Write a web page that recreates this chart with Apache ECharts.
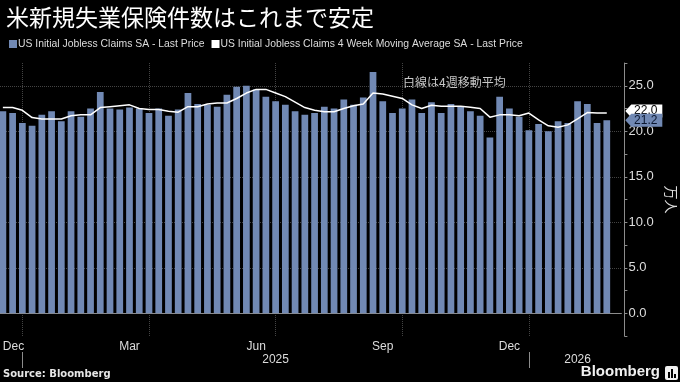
<!DOCTYPE html>
<html><head><meta charset="utf-8">
<script src="https://cdn.jsdelivr.net/npm/echarts@6/dist/echarts.min.js"></script>
<style>html,body{margin:0;padding:0;background:#000}#c{width:680px;height:382px}</style>
</head><body><div id="c"></div>
<script>
// ---- data ----
const weeks = ['2024-12-20','2024-12-27','2025-01-03','2025-01-10','2025-01-17','2025-01-24','2025-01-31','2025-02-07','2025-02-14','2025-02-21','2025-02-28','2025-03-07','2025-03-14','2025-03-21','2025-03-28','2025-04-04','2025-04-11','2025-04-18','2025-04-25','2025-05-02','2025-05-09','2025-05-16','2025-05-23','2025-05-30','2025-06-06','2025-06-13','2025-06-20','2025-06-27','2025-07-04','2025-07-11','2025-07-18','2025-07-25','2025-08-01','2025-08-08','2025-08-15','2025-08-22','2025-08-29','2025-09-05','2025-09-12','2025-09-19','2025-09-26','2025-10-03','2025-10-10','2025-10-17','2025-10-24','2025-10-31','2025-11-07','2025-11-14','2025-11-21','2025-11-28','2025-12-05','2025-12-12','2025-12-19','2025-12-26','2026-01-02','2026-01-09','2026-01-16','2026-01-23','2026-01-30','2026-02-06','2026-02-13','2026-02-20','2026-02-27','2026-03-06'];
const claims = [22.2,22.0,20.9,20.6,21.8,22.2,21.1,22.2,21.6,22.5,24.3,22.5,22.4,22.6,22.5,22.0,22.5,21.7,22.4,24.2,23.0,22.9,22.7,24.0,24.9,25.0,24.6,23.8,23.3,22.9,22.2,21.8,22.0,22.7,22.5,23.5,22.9,23.7,26.5,23.3,22.0,22.5,23.5,22.0,23.2,22.0,23.0,22.7,22.2,21.7,19.3,23.8,22.5,21.6,20.1,20.8,20.0,21.1,20.9,23.3,23.0,20.9,21.2];
const movingAvg = [22.6,22.6,22.3,21.5,21.35,21.35,21.35,21.7,21.8,21.8,22.6,22.7,22.8,22.9,22.5,22.4,22.4,22.2,22.1,22.7,22.7,23.0,23.1,23.1,23.6,24.2,24.6,24.6,24.2,23.8,23.2,22.6,22.3,22.15,22.15,22.5,22.8,23.0,24.2,24.1,23.85,23.6,22.9,22.5,22.85,22.75,22.75,22.75,22.65,22.5,21.55,21.8,21.8,21.7,22.0,21.25,20.6,20.45,20.7,21.35,22.05,22.0,22.0];
const monthLabels = ['Dec','Mar','Jun','Sep','Dec'];
const yearLabels = {'2025-07-04':'2025','2026-02-06':'2026'};
const seriesNames = ['US Initial Jobless Claims SA - Last Price','US Initial Jobless Claims 4 Week Moving Average SA - Last Price'];

// ---- helpers ----
const day = s => +s.slice(8,10), mon = s => +s.slice(5,7);
const isMonthTick = i => day(weeks[i]) <= 7;
const isQuarter = i => isMonthTick(i) && [1,4,7,10].includes(mon(weeks[i]));
const isMonthLabel = i => [3,6,9,12].includes(mon(weeks[i])) && day(weeks[i]) >= 15 && day(weeks[i]) <= 21;
const labelIdx = weeks.map((w,i)=>i).filter(isMonthLabel);
const isYearStart = i => isMonthTick(i) && mon(weeks[i]) === 1;

const BAR = '#7189b4';
const AXIS = '#8c8c8c';
const TXT = '#dcdcdc';
const SANS = '"Liberation Sans", sans-serif';
const TAG = 'path://M0,6.5 L6,0 L37,0 L37,13 L6,13 Z';
const lastI = claims.length - 1;

const chart = echarts.init(document.getElementById('c'));
chart.setOption({
  backgroundColor: '#000',
  animation: false,
  title: {text: '米新規失業保険件数はこれまで安定', left: 1, top: 1,
    textStyle: {color: '#fff', fontSize: 23, fontWeight: 'normal', fontFamily: '"Noto Sans CJK JP"'}},
  legend: {left: 4, top: 34, icon: 'rect', itemWidth: 8, itemHeight: 8, itemGap: 7,
    textStyle: {color: TXT, fontSize: 10.4, fontFamily: SANS, padding: [0,0,0,-4]},
    data: seriesNames},
  grid: {left: -2, right: 58.6, top: 63, bottom: 46, containLabel: false, outerBoundsMode: 'none'},
  xAxis: [{
    type: 'category', data: weeks, boundaryGap: true,
    axisLine: {lineStyle: {color: AXIS}},
    axisTick: {alignWithLabel: true, interval: i => isMonthTick(i), length: 3, lineStyle: {color: AXIS}},
    axisLabel: {interval: i => isMonthLabel(i), formatter: (v,i) => monthLabels[labelIdx.indexOf(i)] || '',
      alignMinLabel: 'left', color: TXT, fontSize: 12, fontFamily: SANS, margin: 5},
    splitLine: {show: true, alignWithLabel: true, interval: i => isQuarter(i), lineStyle: {color: '#444', type: 'dotted'}}
  },{
    type: 'category', data: weeks, boundaryGap: true, position: 'bottom', offset: 16,
    axisLine: {show: false},
    axisTick: {show: true, alignWithLabel: true, interval: i => isYearStart(i), length: 16, lineStyle: {color: AXIS}},
    axisLabel: {interval: i => !!yearLabels[weeks[i]], formatter: v => yearLabels[v] || '',
      color: TXT, fontSize: 12, fontFamily: SANS, margin: 2},
    splitLine: {show: false}
  }],
  yAxis: {
    type: 'value', position: 'right', offset: 3, min: -2.5, max: 27.5, interval: 2.5,
    axisLine: {show: true, lineStyle: {color: AXIS}},
    axisTick: {show: true, length: 3, lineStyle: {color: AXIS}},
    axisLabel: {color: TXT, fontSize: 13, fontFamily: SANS, margin: 4,
      formatter: v => (v >= 0 && Math.abs(v % 5) < 1e-9) ? v.toFixed(1) : ''},
    splitLine: {show: true, lineStyle: {color: ['rgba(0,0,0,0)','#444'], type: 'dotted'}},
    name: '万人', nameLocation: 'middle', nameGap: 37, nameRotate: -90,
    nameTextStyle: {color: TXT, fontSize: 14, fontFamily: '"Noto Sans CJK JP"'}
  },
  series: [{
    name: seriesNames[0], type: 'bar', data: claims, barCategoryGap: '31%',
    itemStyle: {color: BAR}, z: 2,
    markPoint: {z: 10, symbol: TAG, symbolSize: [37,13], symbolOffset: [37,0],
      itemStyle: {color: BAR},
      label: {color: '#0b1730', fontSize: 12, fontFamily: SANS, offset: [2,0],
        formatter: p => p.value.toFixed(1)},
      data: [{coord: [weeks[lastI], claims[lastI]], value: claims[lastI]}]}
  },{
    name: seriesNames[1], type: 'line', data: movingAvg, showSymbol: false, symbol: 'none',
    lineStyle: {color: '#fff', width: 1.5}, itemStyle: {color: '#fff'}, z: 3,
    markPoint: {z: 6, symbol: TAG, symbolSize: [37,13], symbolOffset: [37,-2],
      itemStyle: {color: '#fff'},
      label: {color: '#000', fontSize: 12, fontFamily: SANS, offset: [2,0],
        formatter: p => p.value.toFixed(1)},
      data: [{coord: [weeks[lastI], movingAvg[lastI]], value: movingAvg[lastI]}]}
  }],
  graphic: [
    {type: 'text', left: 403, top: 76, style: {text: '白線は4週移動平均', fill: '#c8c8c8', font: '12px "Noto Sans CJK JP"'}},
    {type: 'text', left: 3, top: 369, style: {text: 'Source: Bloomberg', fill: '#e6e6e6', font: 'bold 10px "DejaVu Sans"'}},
    {type: 'text', right: 20, top: 364, style: {text: 'Bloomberg', fill: '#f0f0f0', font: 'bold 15px "Liberation Sans"'}},
    {type: 'group', right: 2, top: 366, children: [
      {type: 'rect', shape: {x: 0, y: 0, width: 13, height: 14, r: 2}, style: {fill: '#f0f0f0'}},
      {type: 'rect', shape: {x: 3, y: 6, width: 2, height: 6}, style: {fill: '#000'}},
      {type: 'rect', shape: {x: 6, y: 3, width: 2, height: 9}, style: {fill: '#000'}},
      {type: 'rect', shape: {x: 9, y: 8, width: 2, height: 4}, style: {fill: '#000'}}
    ]}
  ]
});
</script>
</body></html>
